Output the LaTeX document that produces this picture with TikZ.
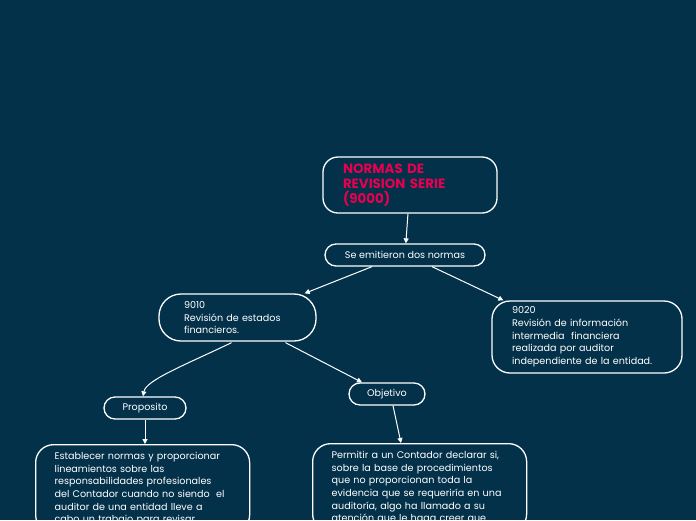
\documentclass[tikz,border=0pt]{standalone}
\usepackage{fontspec}
\setmainfont{Poppins}
\usetikzlibrary{arrows.meta,calc}
\definecolor{bg}{HTML}{03314A}
\definecolor{ttl}{HTML}{E8004F}
\begin{document}
\begin{tikzpicture}[x=1pt,y=-1pt,
 box/.style={draw=white, line width=1.3pt, text=white, font=\fontsize{9.6}{12.7}\selectfont, align=left, inner ysep=0pt},
 pill/.style={draw=white, line width=1.3pt, text=white, font=\fontsize{9.6}{12.7}\selectfont, align=center, inner sep=0pt, minimum height=22pt, rounded corners=11pt},
 con/.style={draw=white, line width=1pt, -{Triangle[length=5pt,width=5pt]}}]
\fill[bg] (0,0) rectangle (696,520);
\useasboundingbox (0,0) rectangle (696,520);
\clip (0,0) rectangle (696,520);
\node[box, rounded corners=15pt, minimum height=56pt, text width=134pt, inner xsep=20pt, text=ttl, font=\fontsize{13.4}{15}\selectfont\bfseries] (title) at (410,185) {NORMAS DE\\REVISION SERIE\\(9000)};
\node[pill, minimum width=160pt] (se) at (405,255) {Se emitieron dos normas};
\node[box, rounded corners=22pt, minimum height=47pt, text width=107pt, inner xsep=25pt] (n9010) at (237.5,317.5) {9010\\Revisión de estados\\financieros.};
\node[box, rounded corners=18pt, minimum height=72pt, text width=150pt, inner xsep=20pt] (n9020) at (587,337) {9020\\Revisión de información\\intermedia\ \ financiera\\realizada por auditor\\independiente de la entidad.};
\node[pill, minimum width=82pt] (prop) at (145,408) {Proposito};
\node[pill, minimum width=76pt] (obj) at (387,394) {Objetivo};
\node[box, rounded corners=18pt, anchor=north west, text width=176pt, inner xsep=19pt, inner ysep=7.5pt] (est) at (35,444) {Establecer normas y proporcionar\\lineamientos sobre las\\responsabilidades profesionales\\del Contador cuando no siendo\ \ el\\auditor de una entidad lleve a\\cabo un trabajo para revisar};
\node[box, rounded corners=18pt, anchor=north west, text width=176pt, inner xsep=19pt, inner ysep=7.5pt] (perm) at (312,443) {Permitir a un Contador declarar si,\\sobre la base de procedimientos\\que no proporcionan toda la\\evidencia que se requeriría en una\\auditoría, algo ha llamado a su\\atención que le haga creer que};
\draw[con] (title) -- (se);
\draw[con] ($(se.south)+(-33,0)$) -- ($(n9010.north east)+(-12,0)$);
\draw[con] ($(se.south)+(27,0)$) -- ($(n9020.north west)+(12,0)$);
\draw[con] ($(n9010.south)+(-6,1)$) .. controls (185,365) and (146,380) .. ($(prop.north)+(-2,0)$);
\draw[con] ($(n9010.south)+(48,1)$) -- ($(obj.north)+(-25,0)$);
\draw[con] (prop) -- (prop |- est.north);
\draw[con] ($(obj.south)+(6,0)$) -- ($(perm.north west)+(89,0)$);
\end{tikzpicture}
\end{document}
